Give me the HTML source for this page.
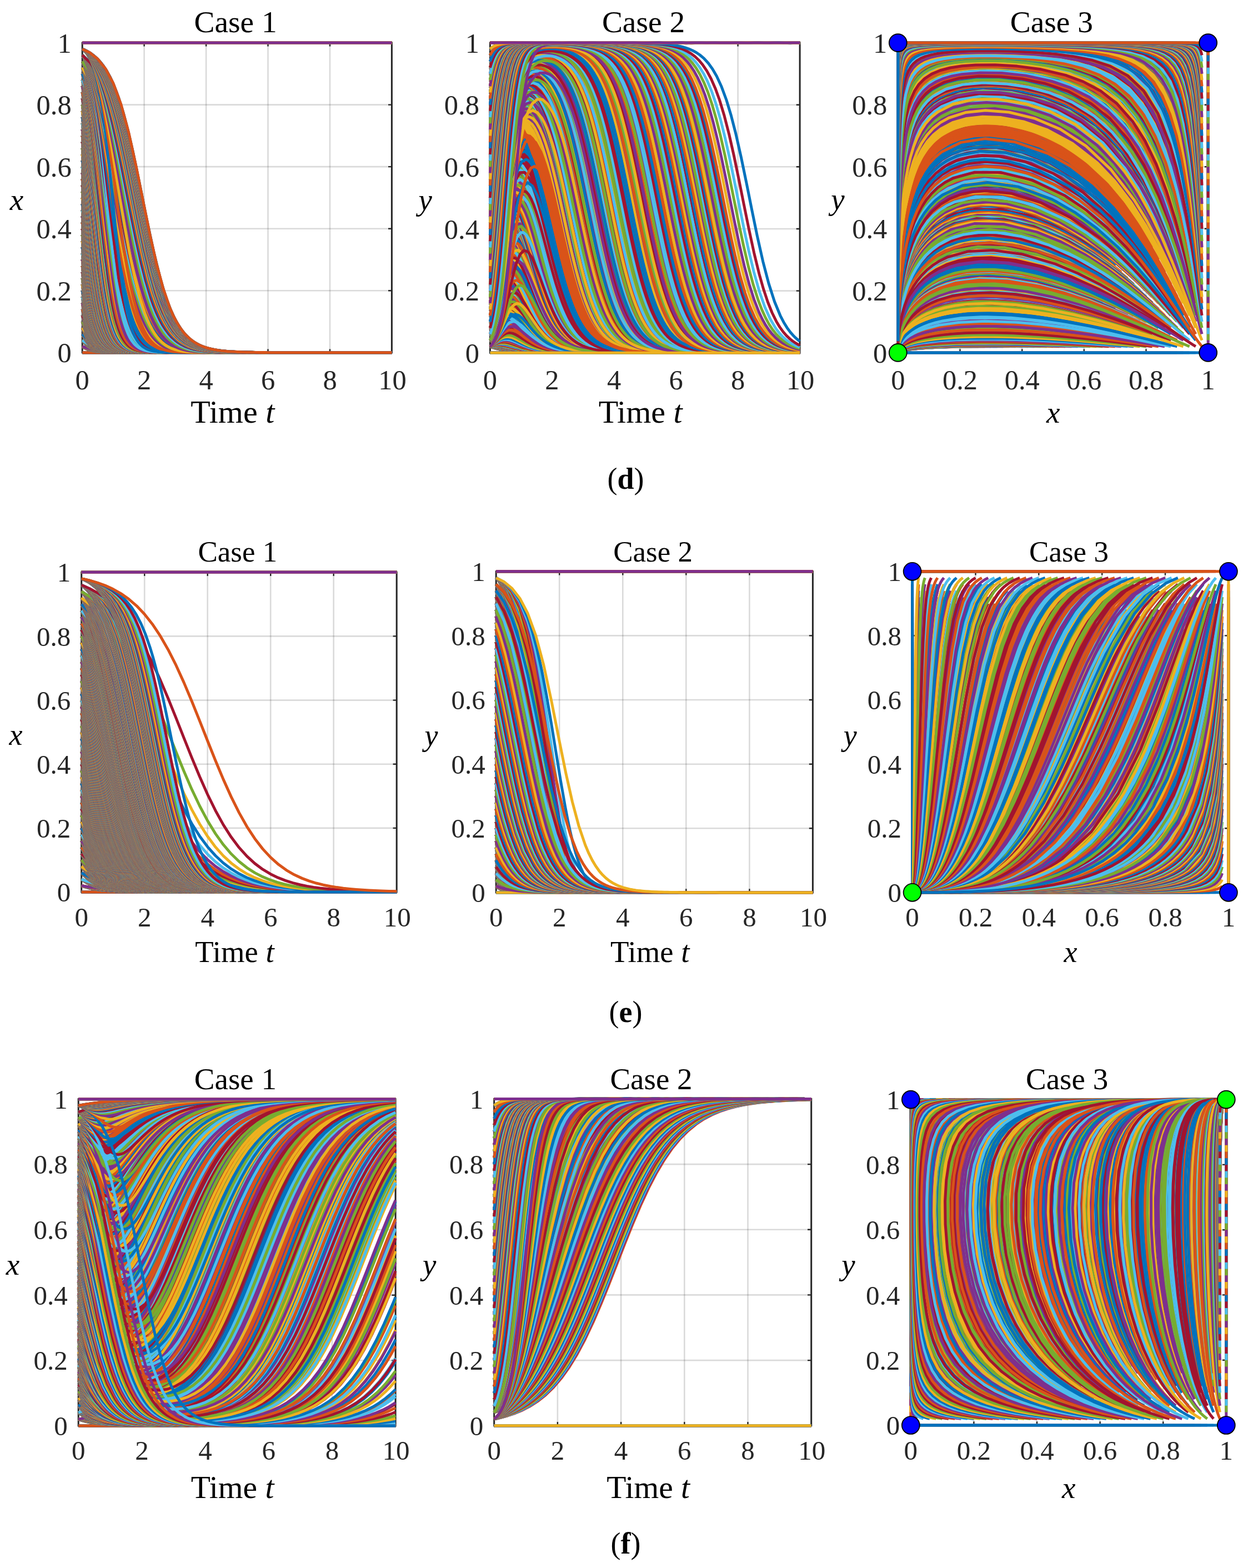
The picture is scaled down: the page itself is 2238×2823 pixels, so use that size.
<!DOCTYPE html>
<html><head><meta charset="utf-8"><title>Evolution trajectories</title>
<style>
html,body{margin:0;padding:0;background:#fff;}
#wrap{position:relative;width:2238px;height:2823px;overflow:hidden;background:#fff;}
#wrap svg,#wrap canvas{position:absolute;left:0;top:0;}
text{font-family:"Liberation Serif","Times New Roman",serif;}
</style></head><body>
<div id="wrap">
<svg width="2238" height="2823" xmlns="http://www.w3.org/2000/svg" font-family="Liberation Serif, Times New Roman, serif" fill="#000">
<path d="M259.6 77.0V634.8M371.1 77.0V634.8M482.5 77.0V634.8M594.0 77.0V634.8" stroke="#262626" stroke-opacity="0.17" stroke-width="2.6" fill="none"/>
<path d="M148.2 523.2H705.4M148.2 411.7H705.4M148.2 300.1H705.4M148.2 188.6H705.4" stroke="#262626" stroke-opacity="0.17" stroke-width="2.6" fill="none"/>
<rect x="148.2" y="77.0" width="557.2" height="557.8" fill="none" stroke="#262626" stroke-width="3.0"/>
<path d="M259.6 634.8v-6.4M259.6 77.0v6.4M371.1 634.8v-6.4M371.1 77.0v6.4M482.5 634.8v-6.4M482.5 77.0v6.4M594.0 634.8v-6.4M594.0 77.0v6.4M148.2 523.2h6.4M705.4 523.2h-6.4M148.2 411.7h6.4M705.4 411.7h-6.4M148.2 300.1h6.4M705.4 300.1h-6.4M148.2 188.6h6.4M705.4 188.6h-6.4" stroke="#262626" stroke-width="2.4" fill="none"/>
<g font-size="50.5" fill="#262626"><text x="148.2" y="701.3" text-anchor="middle">0</text><text x="259.6" y="701.3" text-anchor="middle">2</text><text x="371.1" y="701.3" text-anchor="middle">4</text><text x="482.5" y="701.3" text-anchor="middle">6</text><text x="594.0" y="701.3" text-anchor="middle">8</text><text x="706.4" y="701.3" text-anchor="middle">10</text><text x="128.7" y="652.4" text-anchor="end">0</text><text x="128.7" y="540.8" text-anchor="end">0.2</text><text x="128.7" y="429.2" text-anchor="end">0.4</text><text x="128.7" y="317.7" text-anchor="end">0.6</text><text x="128.7" y="206.1" text-anchor="end">0.8</text><text x="128.7" y="94.6" text-anchor="end">1</text></g>
<text x="424.1" y="58.0" text-anchor="middle" font-size="55.4">Case 1</text>
<text x="418.8" y="761.0" text-anchor="middle" font-size="58.0">Time <tspan font-style="italic">t</tspan></text>
<text x="29.9" y="378.4" text-anchor="middle" font-size="55.0" font-style="italic">x</text>
<path d="M993.9 77.1V635.2M1105.5 77.1V635.2M1217.0 77.1V635.2M1328.6 77.1V635.2" stroke="#262626" stroke-opacity="0.17" stroke-width="2.6" fill="none"/>
<path d="M882.4 523.6H1440.1M882.4 412.0H1440.1M882.4 300.3H1440.1M882.4 188.7H1440.1" stroke="#262626" stroke-opacity="0.17" stroke-width="2.6" fill="none"/>
<rect x="882.4" y="77.1" width="557.7" height="558.1" fill="none" stroke="#262626" stroke-width="3.0"/>
<path d="M993.9 635.2v-6.4M993.9 77.1v6.4M1105.5 635.2v-6.4M1105.5 77.1v6.4M1217.0 635.2v-6.4M1217.0 77.1v6.4M1328.6 635.2v-6.4M1328.6 77.1v6.4M882.4 523.6h6.4M1440.1 523.6h-6.4M882.4 412.0h6.4M1440.1 412.0h-6.4M882.4 300.3h6.4M1440.1 300.3h-6.4M882.4 188.7h6.4M1440.1 188.7h-6.4" stroke="#262626" stroke-width="2.4" fill="none"/>
<g font-size="50.5" fill="#262626"><text x="882.4" y="701.3" text-anchor="middle">0</text><text x="993.9" y="701.3" text-anchor="middle">2</text><text x="1105.5" y="701.3" text-anchor="middle">4</text><text x="1217.0" y="701.3" text-anchor="middle">6</text><text x="1328.6" y="701.3" text-anchor="middle">8</text><text x="1441.1" y="701.3" text-anchor="middle">10</text><text x="862.9" y="652.8" text-anchor="end">0</text><text x="862.9" y="541.1" text-anchor="end">0.2</text><text x="862.9" y="429.5" text-anchor="end">0.4</text><text x="862.9" y="317.9" text-anchor="end">0.6</text><text x="862.9" y="206.3" text-anchor="end">0.8</text><text x="862.9" y="94.7" text-anchor="end">1</text></g>
<text x="1158.5" y="58.0" text-anchor="middle" font-size="55.4">Case 2</text>
<text x="1153.2" y="761.0" text-anchor="middle" font-size="58.0">Time <tspan font-style="italic">t</tspan></text>
<text x="765.8" y="377.6" text-anchor="middle" font-size="55.0" font-style="italic">y</text>
<path d="M1728.5 77.1V634.9M1840.2 77.1V634.9M1951.8 77.1V634.9M2063.5 77.1V634.9" stroke="#262626" stroke-opacity="0.17" stroke-width="2.6" fill="none"/>
<path d="M1616.8 523.3H2175.2M1616.8 411.8H2175.2M1616.8 300.2H2175.2M1616.8 188.7H2175.2" stroke="#262626" stroke-opacity="0.17" stroke-width="2.6" fill="none"/>
<rect x="1616.8" y="77.1" width="558.4" height="557.8" fill="none" stroke="#262626" stroke-width="3.0"/>
<path d="M1728.5 634.9v-6.4M1728.5 77.1v6.4M1840.2 634.9v-6.4M1840.2 77.1v6.4M1951.8 634.9v-6.4M1951.8 77.1v6.4M2063.5 634.9v-6.4M2063.5 77.1v6.4M1616.8 523.3h6.4M2175.2 523.3h-6.4M1616.8 411.8h6.4M2175.2 411.8h-6.4M1616.8 300.2h6.4M2175.2 300.2h-6.4M1616.8 188.7h6.4M2175.2 188.7h-6.4" stroke="#262626" stroke-width="2.4" fill="none"/>
<g font-size="50.5" fill="#262626"><text x="1616.8" y="701.3" text-anchor="middle">0</text><text x="1728.5" y="701.3" text-anchor="middle">0.2</text><text x="1840.2" y="701.3" text-anchor="middle">0.4</text><text x="1951.8" y="701.3" text-anchor="middle">0.6</text><text x="2063.5" y="701.3" text-anchor="middle">0.8</text><text x="2175.2" y="701.3" text-anchor="middle">1</text><text x="1597.3" y="652.5" text-anchor="end">0</text><text x="1597.3" y="540.9" text-anchor="end">0.2</text><text x="1597.3" y="429.3" text-anchor="end">0.4</text><text x="1597.3" y="317.8" text-anchor="end">0.6</text><text x="1597.3" y="206.2" text-anchor="end">0.8</text><text x="1597.3" y="94.7" text-anchor="end">1</text></g>
<text x="1893.3" y="58.0" text-anchor="middle" font-size="55.4">Case 3</text>
<text x="1896.3" y="761.0" text-anchor="middle" font-size="55.0" font-style="italic">x</text>
<text x="1508.5" y="377.4" text-anchor="middle" font-size="55.0" font-style="italic">y</text>
<text x="1126.4" y="879.6" text-anchor="middle" font-size="54">(<tspan font-weight="bold">d</tspan>)</text>
<path d="M260.2 1030.3V1606.0M373.7 1030.3V1606.0M487.2 1030.3V1606.0M600.7 1030.3V1606.0" stroke="#262626" stroke-opacity="0.17" stroke-width="2.6" fill="none"/>
<path d="M146.7 1490.9H714.2M146.7 1375.7H714.2M146.7 1260.6H714.2M146.7 1145.4H714.2" stroke="#262626" stroke-opacity="0.17" stroke-width="2.6" fill="none"/>
<rect x="146.7" y="1030.3" width="567.5" height="575.7" fill="none" stroke="#262626" stroke-width="3.0"/>
<path d="M260.2 1606.0v-6.6M260.2 1030.3v6.6M373.7 1606.0v-6.6M373.7 1030.3v6.6M487.2 1606.0v-6.6M487.2 1030.3v6.6M600.7 1606.0v-6.6M600.7 1030.3v6.6M146.7 1490.9h6.6M714.2 1490.9h-6.6M146.7 1375.7h6.6M714.2 1375.7h-6.6M146.7 1260.6h6.6M714.2 1260.6h-6.6M146.7 1145.4h6.6M714.2 1145.4h-6.6" stroke="#262626" stroke-width="2.4" fill="none"/>
<g font-size="49.0" fill="#262626"><text x="146.7" y="1667.5" text-anchor="middle">0</text><text x="260.2" y="1667.5" text-anchor="middle">2</text><text x="373.7" y="1667.5" text-anchor="middle">4</text><text x="487.2" y="1667.5" text-anchor="middle">6</text><text x="600.7" y="1667.5" text-anchor="middle">8</text><text x="715.2" y="1667.5" text-anchor="middle">10</text><text x="127.2" y="1623.1" text-anchor="end">0</text><text x="127.2" y="1507.9" text-anchor="end">0.2</text><text x="127.2" y="1392.8" text-anchor="end">0.4</text><text x="127.2" y="1277.7" text-anchor="end">0.6</text><text x="127.2" y="1162.5" text-anchor="end">0.8</text><text x="127.2" y="1047.4" text-anchor="end">1</text></g>
<text x="427.8" y="1010.5" text-anchor="middle" font-size="53.0">Case 1</text>
<text x="422.5" y="1731.5" text-anchor="middle" font-size="54.7">Time <tspan font-style="italic">t</tspan></text>
<text x="28.4" y="1340.7" text-anchor="middle" font-size="54.0" font-style="italic">x</text>
<path d="M1007.2 1028.8V1606.9M1121.3 1028.8V1606.9M1235.3 1028.8V1606.9M1349.4 1028.8V1606.9" stroke="#262626" stroke-opacity="0.17" stroke-width="2.6" fill="none"/>
<path d="M893.2 1491.3H1463.4M893.2 1375.7H1463.4M893.2 1260.0H1463.4M893.2 1144.4H1463.4" stroke="#262626" stroke-opacity="0.17" stroke-width="2.6" fill="none"/>
<rect x="893.2" y="1028.8" width="570.2" height="578.1" fill="none" stroke="#262626" stroke-width="3.0"/>
<path d="M1007.2 1606.9v-6.6M1007.2 1028.8v6.6M1121.3 1606.9v-6.6M1121.3 1028.8v6.6M1235.3 1606.9v-6.6M1235.3 1028.8v6.6M1349.4 1606.9v-6.6M1349.4 1028.8v6.6M893.2 1491.3h6.6M1463.4 1491.3h-6.6M893.2 1375.7h6.6M1463.4 1375.7h-6.6M893.2 1260.0h6.6M1463.4 1260.0h-6.6M893.2 1144.4h6.6M1463.4 1144.4h-6.6" stroke="#262626" stroke-width="2.4" fill="none"/>
<g font-size="49.0" fill="#262626"><text x="893.2" y="1667.5" text-anchor="middle">0</text><text x="1007.2" y="1667.5" text-anchor="middle">2</text><text x="1121.3" y="1667.5" text-anchor="middle">4</text><text x="1235.3" y="1667.5" text-anchor="middle">6</text><text x="1349.4" y="1667.5" text-anchor="middle">8</text><text x="1464.4" y="1667.5" text-anchor="middle">10</text><text x="873.7" y="1624.0" text-anchor="end">0</text><text x="873.7" y="1508.4" text-anchor="end">0.2</text><text x="873.7" y="1392.7" text-anchor="end">0.4</text><text x="873.7" y="1277.1" text-anchor="end">0.6</text><text x="873.7" y="1161.5" text-anchor="end">0.8</text><text x="873.7" y="1045.9" text-anchor="end">1</text></g>
<text x="1175.6" y="1010.5" text-anchor="middle" font-size="53.0">Case 2</text>
<text x="1170.3" y="1731.5" text-anchor="middle" font-size="54.7">Time <tspan font-style="italic">t</tspan></text>
<text x="776.6" y="1341.8" text-anchor="middle" font-size="54.0" font-style="italic">y</text>
<path d="M1756.5 1028.8V1606.8M1870.3 1028.8V1606.8M1984.2 1028.8V1606.8M2098.0 1028.8V1606.8" stroke="#262626" stroke-opacity="0.17" stroke-width="2.6" fill="none"/>
<path d="M1642.6 1491.2H2211.9M1642.6 1375.6H2211.9M1642.6 1260.0H2211.9M1642.6 1144.4H2211.9" stroke="#262626" stroke-opacity="0.17" stroke-width="2.6" fill="none"/>
<rect x="1642.6" y="1028.8" width="569.3" height="578.0" fill="none" stroke="#262626" stroke-width="3.0"/>
<path d="M1756.5 1606.8v-6.6M1756.5 1028.8v6.6M1870.3 1606.8v-6.6M1870.3 1028.8v6.6M1984.2 1606.8v-6.6M1984.2 1028.8v6.6M2098.0 1606.8v-6.6M2098.0 1028.8v6.6M1642.6 1491.2h6.6M2211.9 1491.2h-6.6M1642.6 1375.6h6.6M2211.9 1375.6h-6.6M1642.6 1260.0h6.6M2211.9 1260.0h-6.6M1642.6 1144.4h6.6M2211.9 1144.4h-6.6" stroke="#262626" stroke-width="2.4" fill="none"/>
<g font-size="49.0" fill="#262626"><text x="1642.6" y="1667.5" text-anchor="middle">0</text><text x="1756.5" y="1667.5" text-anchor="middle">0.2</text><text x="1870.3" y="1667.5" text-anchor="middle">0.4</text><text x="1984.2" y="1667.5" text-anchor="middle">0.6</text><text x="2098.0" y="1667.5" text-anchor="middle">0.8</text><text x="2211.9" y="1667.5" text-anchor="middle">1</text><text x="1623.1" y="1623.9" text-anchor="end">0</text><text x="1623.1" y="1508.3" text-anchor="end">0.2</text><text x="1623.1" y="1392.7" text-anchor="end">0.4</text><text x="1623.1" y="1277.1" text-anchor="end">0.6</text><text x="1623.1" y="1161.5" text-anchor="end">0.8</text><text x="1623.1" y="1045.9" text-anchor="end">1</text></g>
<text x="1924.5" y="1010.5" text-anchor="middle" font-size="53.0">Case 3</text>
<text x="1927.5" y="1731.5" text-anchor="middle" font-size="54.0" font-style="italic">x</text>
<text x="1530.8" y="1341.8" text-anchor="middle" font-size="54.0" font-style="italic">y</text>
<text x="1126.4" y="1839.6" text-anchor="middle" font-size="54">(<tspan font-weight="bold">e</tspan>)</text>
<path d="M255.4 1978.7V2567.0M369.6 1978.7V2567.0M483.7 1978.7V2567.0M597.9 1978.7V2567.0" stroke="#262626" stroke-opacity="0.17" stroke-width="2.6" fill="none"/>
<path d="M141.2 2449.3H712.1M141.2 2331.7H712.1M141.2 2214.0H712.1M141.2 2096.4H712.1" stroke="#262626" stroke-opacity="0.17" stroke-width="2.6" fill="none"/>
<rect x="141.2" y="1978.7" width="570.9" height="588.3" fill="none" stroke="#262626" stroke-width="3.0"/>
<path d="M255.4 2567.0v-6.7M255.4 1978.7v6.7M369.6 2567.0v-6.7M369.6 1978.7v6.7M483.7 2567.0v-6.7M483.7 1978.7v6.7M597.9 2567.0v-6.7M597.9 1978.7v6.7M141.2 2449.3h6.7M712.1 2449.3h-6.7M141.2 2331.7h6.7M712.1 2331.7h-6.7M141.2 2214.0h6.7M712.1 2214.0h-6.7M141.2 2096.4h6.7M712.1 2096.4h-6.7" stroke="#262626" stroke-width="2.4" fill="none"/>
<g font-size="49.0" fill="#262626"><text x="141.2" y="2627.6" text-anchor="middle">0</text><text x="255.4" y="2627.6" text-anchor="middle">2</text><text x="369.6" y="2627.6" text-anchor="middle">4</text><text x="483.7" y="2627.6" text-anchor="middle">6</text><text x="597.9" y="2627.6" text-anchor="middle">8</text><text x="713.1" y="2627.6" text-anchor="middle">10</text><text x="121.7" y="2584.1" text-anchor="end">0</text><text x="121.7" y="2466.4" text-anchor="end">0.2</text><text x="121.7" y="2348.8" text-anchor="end">0.4</text><text x="121.7" y="2231.1" text-anchor="end">0.6</text><text x="121.7" y="2113.4" text-anchor="end">0.8</text><text x="121.7" y="1995.8" text-anchor="end">1</text></g>
<text x="423.9" y="1960.6" text-anchor="middle" font-size="55.0">Case 1</text>
<text x="418.6" y="2697.3" text-anchor="middle" font-size="57.5">Time <tspan font-style="italic">t</tspan></text>
<text x="22.9" y="2295.3" text-anchor="middle" font-size="55.0" font-style="italic">x</text>
<path d="M1003.9 1978.5V2566.7M1118.1 1978.5V2566.7M1232.3 1978.5V2566.7M1346.5 1978.5V2566.7" stroke="#262626" stroke-opacity="0.17" stroke-width="2.6" fill="none"/>
<path d="M889.7 2449.1H1460.7M889.7 2331.4H1460.7M889.7 2213.8H1460.7M889.7 2096.1H1460.7" stroke="#262626" stroke-opacity="0.17" stroke-width="2.6" fill="none"/>
<rect x="889.7" y="1978.5" width="571.0" height="588.2" fill="none" stroke="#262626" stroke-width="3.0"/>
<path d="M1003.9 2566.7v-6.7M1003.9 1978.5v6.7M1118.1 2566.7v-6.7M1118.1 1978.5v6.7M1232.3 2566.7v-6.7M1232.3 1978.5v6.7M1346.5 2566.7v-6.7M1346.5 1978.5v6.7M889.7 2449.1h6.7M1460.7 2449.1h-6.7M889.7 2331.4h6.7M1460.7 2331.4h-6.7M889.7 2213.8h6.7M1460.7 2213.8h-6.7M889.7 2096.1h6.7M1460.7 2096.1h-6.7" stroke="#262626" stroke-width="2.4" fill="none"/>
<g font-size="49.0" fill="#262626"><text x="889.7" y="2627.6" text-anchor="middle">0</text><text x="1003.9" y="2627.6" text-anchor="middle">2</text><text x="1118.1" y="2627.6" text-anchor="middle">4</text><text x="1232.3" y="2627.6" text-anchor="middle">6</text><text x="1346.5" y="2627.6" text-anchor="middle">8</text><text x="1461.7" y="2627.6" text-anchor="middle">10</text><text x="870.2" y="2583.8" text-anchor="end">0</text><text x="870.2" y="2466.1" text-anchor="end">0.2</text><text x="870.2" y="2348.5" text-anchor="end">0.4</text><text x="870.2" y="2230.9" text-anchor="end">0.6</text><text x="870.2" y="2113.2" text-anchor="end">0.8</text><text x="870.2" y="1995.6" text-anchor="end">1</text></g>
<text x="1172.5" y="1960.6" text-anchor="middle" font-size="55.0">Case 2</text>
<text x="1167.2" y="2697.3" text-anchor="middle" font-size="57.5">Time <tspan font-style="italic">t</tspan></text>
<text x="773.1" y="2295.0" text-anchor="middle" font-size="55.0" font-style="italic">y</text>
<path d="M1753.4 1979.6V2566.0M1867.0 1979.6V2566.0M1980.6 1979.6V2566.0M2094.2 1979.6V2566.0" stroke="#262626" stroke-opacity="0.17" stroke-width="2.6" fill="none"/>
<path d="M1639.8 2448.7H2207.8M1639.8 2331.4H2207.8M1639.8 2214.2H2207.8M1639.8 2096.9H2207.8" stroke="#262626" stroke-opacity="0.17" stroke-width="2.6" fill="none"/>
<rect x="1639.8" y="1979.6" width="568.0" height="586.4" fill="none" stroke="#262626" stroke-width="3.0"/>
<path d="M1753.4 2566.0v-6.7M1753.4 1979.6v6.7M1867.0 2566.0v-6.7M1867.0 1979.6v6.7M1980.6 2566.0v-6.7M1980.6 1979.6v6.7M2094.2 2566.0v-6.7M2094.2 1979.6v6.7M1639.8 2448.7h6.7M2207.8 2448.7h-6.7M1639.8 2331.4h6.7M2207.8 2331.4h-6.7M1639.8 2214.2h6.7M2207.8 2214.2h-6.7M1639.8 2096.9h6.7M2207.8 2096.9h-6.7" stroke="#262626" stroke-width="2.4" fill="none"/>
<g font-size="49.0" fill="#262626"><text x="1639.8" y="2627.6" text-anchor="middle">0</text><text x="1753.4" y="2627.6" text-anchor="middle">0.2</text><text x="1867.0" y="2627.6" text-anchor="middle">0.4</text><text x="1980.6" y="2627.6" text-anchor="middle">0.6</text><text x="2094.2" y="2627.6" text-anchor="middle">0.8</text><text x="2207.8" y="2627.6" text-anchor="middle">1</text><text x="1620.3" y="2583.1" text-anchor="end">0</text><text x="1620.3" y="2465.8" text-anchor="end">0.2</text><text x="1620.3" y="2348.5" text-anchor="end">0.4</text><text x="1620.3" y="2231.2" text-anchor="end">0.6</text><text x="1620.3" y="2114.0" text-anchor="end">0.8</text><text x="1620.3" y="1996.7" text-anchor="end">1</text></g>
<text x="1921.1" y="1960.6" text-anchor="middle" font-size="55.0">Case 3</text>
<text x="1924.1" y="2697.3" text-anchor="middle" font-size="55.0" font-style="italic">x</text>
<text x="1527.4" y="2295.2" text-anchor="middle" font-size="55.0" font-style="italic">y</text>
<text x="1126.4" y="2797.1" text-anchor="middle" font-size="54">(<tspan font-weight="bold">f</tspan>)</text>
</svg>
<canvas id="cv" width="2238" height="2823"></canvas>
<svg width="2238" height="2823" xmlns="http://www.w3.org/2000/svg">
<circle cx="1616.8" cy="77.1" r="15.9" fill="#0000FF" stroke="#000" stroke-width="1.9"/>
<circle cx="2175.2" cy="77.1" r="15.9" fill="#0000FF" stroke="#000" stroke-width="1.9"/>
<circle cx="1616.8" cy="634.9" r="15.9" fill="#00FF00" stroke="#000" stroke-width="1.9"/>
<circle cx="2175.2" cy="634.9" r="15.9" fill="#0000FF" stroke="#000" stroke-width="1.9"/>
<circle cx="1642.6" cy="1028.8" r="15.9" fill="#0000FF" stroke="#000" stroke-width="1.9"/>
<circle cx="2211.9" cy="1028.8" r="15.9" fill="#0000FF" stroke="#000" stroke-width="1.9"/>
<circle cx="1642.6" cy="1606.8" r="15.9" fill="#00FF00" stroke="#000" stroke-width="1.9"/>
<circle cx="2211.9" cy="1606.8" r="15.9" fill="#0000FF" stroke="#000" stroke-width="1.9"/>
<circle cx="1639.8" cy="1979.6" r="15.9" fill="#0000FF" stroke="#000" stroke-width="1.9"/>
<circle cx="2207.8" cy="1979.6" r="15.9" fill="#00FF00" stroke="#000" stroke-width="1.9"/>
<circle cx="1639.8" cy="2566.0" r="15.9" fill="#0000FF" stroke="#000" stroke-width="1.9"/>
<circle cx="2207.8" cy="2566.0" r="15.9" fill="#0000FF" stroke="#000" stroke-width="1.9"/>
</svg>
</div>
<script>

(function(){var __t0=performance.now();
var ROWS=[[[148.2, 705.4, 77.0, 634.8], [882.4, 1440.1, 77.1, 635.2], [1616.8, 2175.2, 77.1, 634.9]], [[146.7, 714.2, 1030.3, 1606.0], [893.2, 1463.4, 1028.8, 1606.9], [1642.6, 2211.9, 1028.8, 1606.8]], [[141.2, 712.1, 1978.7, 2567.0], [889.7, 1460.7, 1978.5, 2566.7], [1639.8, 2207.8, 1979.6, 2566.0]]], P=[[-4.0, 2.0, -2.0, 7.0], [-2.0, 1.0, -5.0, 3.0], [-2.0, 3.0, 1.0, 3.0]], LW=5.0;
var COL=['#0072BD','#D95319','#EDB120','#7E2F8E','#77AC30','#4DBEEE','#A2142F'];
var cv=document.getElementById('cv'), ctx=cv.getContext('2d');
ctx.lineWidth=LW; ctx.lineJoin='round'; ctx.lineCap='butt';
var TS=[],XS=[],YS=[];
function ode45(p,x0,y0){
  var a1=p[0],b1=p[1],a2=p[2],b2=p[3];
  function fx(x,y){return x*(1-x)*(a1+b1*y);} function fy(x,y){return y*(1-y)*(a2+b2*x);}
  var rtol=1e-3,thr=1e-3,hmax=1,tf=10,pw=0.2;
  var t=0,x=x0,y=y0,n=0;
  TS[n]=t;XS[n]=x;YS[n]=y;n++;
  var f1x=fx(x,y),f1y=fy(x,y);
  var absh=Math.min(hmax,10);
  var rh=Math.max(Math.abs(f1x)/Math.max(Math.abs(x),thr),Math.abs(f1y)/Math.max(Math.abs(y),thr))/(0.8*Math.pow(rtol,pw));
  if(absh*rh>1)absh=1/rh;
  var done=false,err,h,tnew,xn,yn,f3x,f3y,f4x,f4y,f5x,f5y,f6x,f6y,f7x,f7y;
  while(!done){
    var hmin=16*2.220446049250313e-16*Math.max(Math.abs(t),1e-300);
    absh=Math.min(hmax,Math.max(hmin,absh)); h=absh;
    if(1.1*absh>=Math.abs(tf-t)){h=tf-t;absh=Math.abs(h);done=true;}
    var nofailed=true;
    while(true){
      var x2=x+h*(0.2*f1x),y2=y+h*(0.2*f1y); var f2x=fx(x2,y2),f2y=fy(x2,y2);
      var x3=x+h*(3/40*f1x+9/40*f2x),y3=y+h*(3/40*f1y+9/40*f2y); f3x=fx(x3,y3);f3y=fy(x3,y3);
      var x4=x+h*(44/45*f1x-56/15*f2x+32/9*f3x),y4=y+h*(44/45*f1y-56/15*f2y+32/9*f3y); f4x=fx(x4,y4);f4y=fy(x4,y4);
      var x5=x+h*(19372/6561*f1x-25360/2187*f2x+64448/6561*f3x-212/729*f4x),y5=y+h*(19372/6561*f1y-25360/2187*f2y+64448/6561*f3y-212/729*f4y); f5x=fx(x5,y5);f5y=fy(x5,y5);
      var x6=x+h*(9017/3168*f1x-355/33*f2x+46732/5247*f3x+49/176*f4x-5103/18656*f5x),y6=y+h*(9017/3168*f1y-355/33*f2y+46732/5247*f3y+49/176*f4y-5103/18656*f5y); f6x=fx(x6,y6);f6y=fy(x6,y6);
      tnew=t+h; if(done)tnew=tf; h=tnew-t;
      xn=x+h*(35/384*f1x+500/1113*f3x+125/192*f4x-2187/6784*f5x+11/84*f6x);
      yn=y+h*(35/384*f1y+500/1113*f3y+125/192*f4y-2187/6784*f5y+11/84*f6y);
      f7x=fx(xn,yn);f7y=fy(xn,yn);
      var ex=71/57600*f1x-71/16695*f3x+71/1920*f4x-17253/339200*f5x+22/525*f6x-1/40*f7x;
      var ey=71/57600*f1y-71/16695*f3y+71/1920*f4y-17253/339200*f5y+22/525*f6y-1/40*f7y;
      err=absh*Math.max(Math.abs(ex)/Math.max(Math.max(Math.abs(x),Math.abs(xn)),thr),Math.abs(ey)/Math.max(Math.max(Math.abs(y),Math.abs(yn)),thr));
      if(err>rtol){
        if(nofailed){nofailed=false;absh=Math.max(hmin,absh*Math.max(0.1,0.8*Math.pow(rtol/err,pw)));}
        else{absh=Math.max(hmin,0.5*absh);}
        h=absh;done=false;
      } else break;
    }
    for(var q=1;q<4;q++){
      var s=q/4, s2=s*s;
      var bs1=(s+s2*(-183/64+s*(37/12-145/128*s))), bs3=s2*(1500/371+s*(-1000/159+1000/371*s)),
          bs4=s2*(-125/32+s*(125/12-375/64*s)), bs5=s2*(9477/3392+s*(-729/106+25515/6784*s)),
          bs6=s2*(-11/7+s*(11/3-55/28*s)), bs7=s2*(1.5+s*(-4+2.5*s));
      TS[n]=t+(tnew-t)*s;
      XS[n]=x+h*(f1x*bs1+f3x*bs3+f4x*bs4+f5x*bs5+f6x*bs6+f7x*bs7);
      YS[n]=y+h*(f1y*bs1+f3y*bs3+f4y*bs4+f5y*bs5+f6y*bs6+f7y*bs7); n++;
    }
    TS[n]=tnew;XS[n]=xn;YS[n]=yn;n++;
    if(done)break;
    if(nofailed){var tmp=1.25*Math.pow(err/rtol,pw); if(tmp>0.2)absh=absh/tmp; else absh=5*absh;}
    t=tnew;x=xn;y=yn;f1x=f7x;f1y=f7y;
  }
  return n;
}
function stroke(A,B,n,box,sa,sb){
  var L=box[0],R=box[1],Tp=box[2],Bt=box[3],W=(R-L)/sa,H=(Bt-Tp)/sb;
  ctx.beginPath(); ctx.moveTo(L+A[0]*W,Bt-B[0]*H);
  for(var s=1;s<n;s++) ctx.lineTo(L+A[s]*W,Bt-B[s]*H);
  ctx.stroke();
}
for(var r=0;r<ROWS.length;r++){
  var p=P[r], bx=ROWS[r]; var k=0;
  for(var i=0;i<=50;i++){ for(var j=0;j<=50;j++){
    var n=ode45(p,i/50,j/50);
    ctx.strokeStyle=COL[k%7]; k++;
    stroke(TS,XS,n,bx[0],10,1); stroke(TS,YS,n,bx[1],10,1); stroke(XS,YS,n,bx[2],1,1);
  }}
}
window.__dt=performance.now()-__t0;})();

</script>
</body></html>
